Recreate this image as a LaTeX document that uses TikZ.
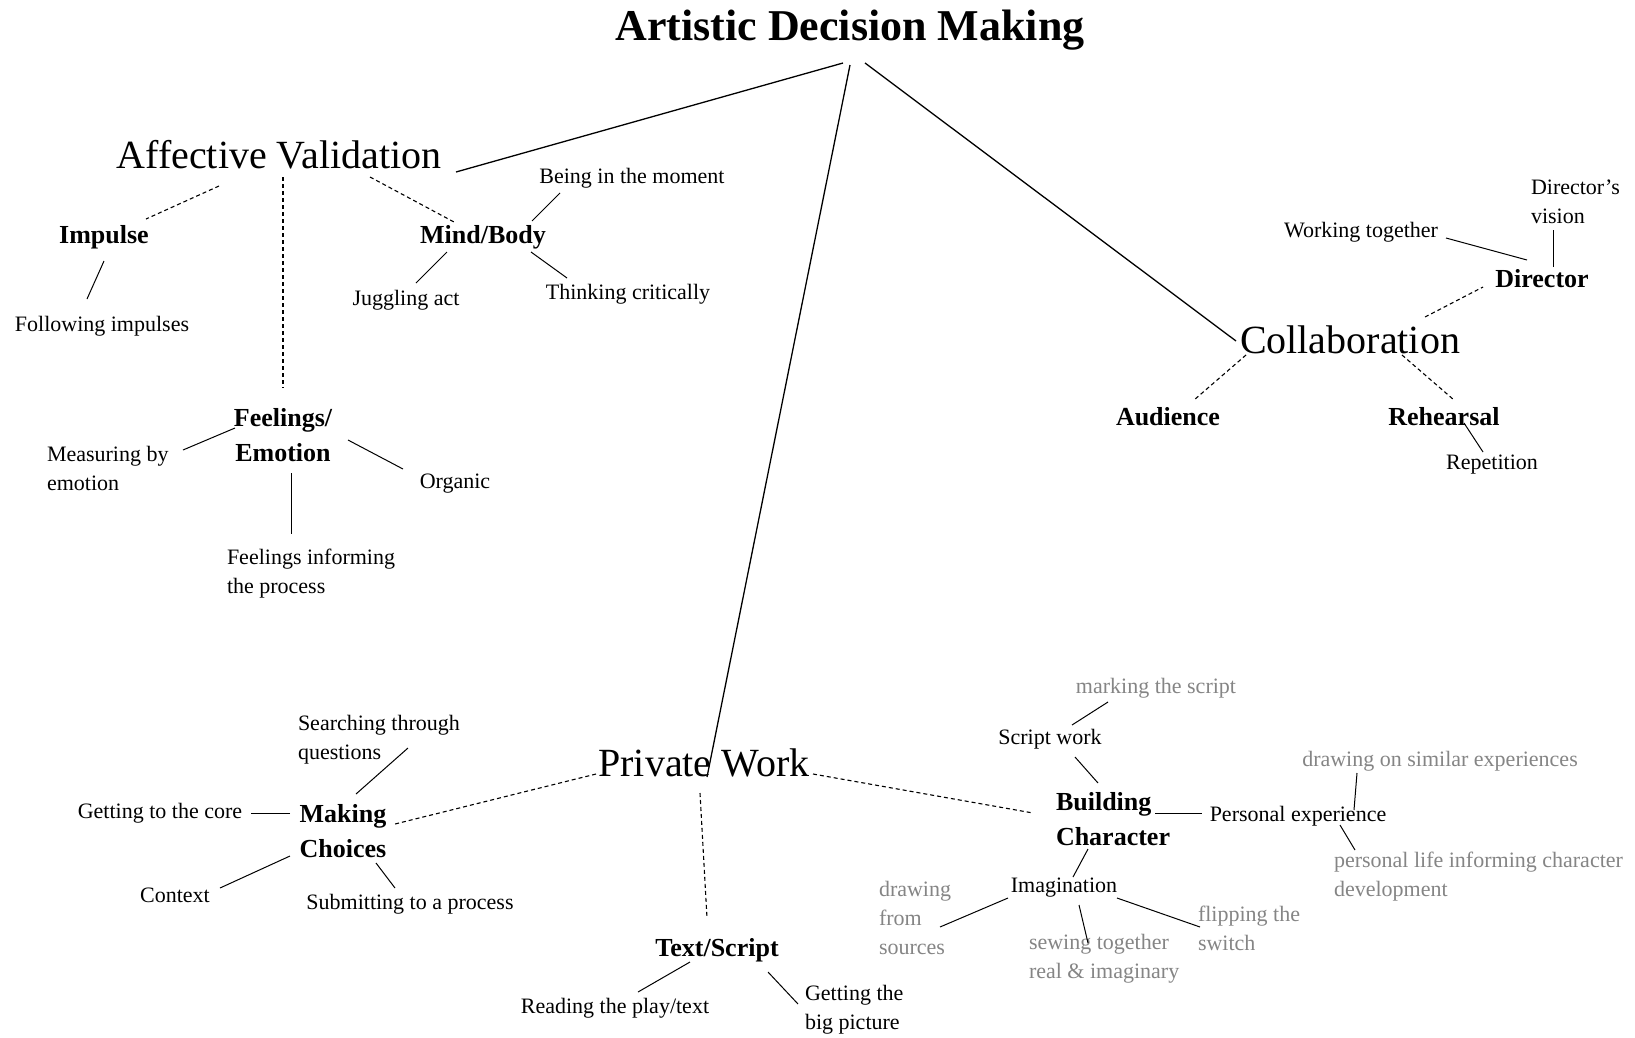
\documentclass[tikz,border=0pt]{standalone}
\usepackage{fontspec}
\setmainfont{Liberation Serif}
\usetikzlibrary{calc}
\definecolor{graytext}{gray}{0.52}
\begin{document}
\begin{tikzpicture}[x=1pt,y=-1pt,
  every node/.style={inner sep=0pt, outer sep=0pt},
  big/.style={font=\fontsize{40}{48}\selectfont},
  titlefont/.style={font=\bfseries\fontsize{44}{52}\selectfont},
  cat/.style={font=\bfseries\fontsize{26}{35}\selectfont, align=center},
  leaf/.style={font=\fontsize{22}{29}\selectfont, align=left},
  gleaf/.style={leaf, text=graytext},
  link/.style={line width=1pt},
  trunk/.style={line width=1.3pt},
  dlink/.style={line width=1.1pt, dash pattern=on 4pt off 3pt}]
\fill[white] (0,0) rectangle (1635,1037);
\useasboundingbox (0,0) rectangle (1635,1037);

% nodes
\node[titlefont] (title) at (850,30) {Artistic Decision Making};
\node[big] (av) at (279,155) {Affective Validation};
\node[cat] (impulse) at (104,237) {Impulse};
\node[leaf] (follow) at (102,326) {Following impulses};
\node[cat] (mind) at (483,237) {Mind/Body};
\node[leaf] (being) at (632,178) {Being in the moment};
\node[leaf] (juggle) at (406,300) {Juggling act};
\node[leaf] (think) at (628,294) {Thinking critically};
\node[cat] (feel) at (283,435) {Feelings/\\Emotion};
\node[leaf, anchor=west] (measure) at (47,468) {Measuring by\\emotion};
\node[leaf] (organic) at (455,484) {Organic};
\node[leaf, anchor=west] (finform) at (227,574) {Feelings informing\\the process};
\node[big] (collab) at (1350,340) {Collaboration};
\node[cat] (director) at (1542,279) {Director};
\node[leaf, anchor=west] (dvision) at (1531,202) {Director’s\\vision};
\node[leaf] (working) at (1361,232) {Working together};
\node[cat] (audience) at (1168,417) {Audience};
\node[cat] (rehearsal) at (1444,417) {Rehearsal};
\node[leaf] (repetition) at (1492,465) {Repetition};
\node[big] (private) at (704,763) {Private Work};
\node[cat] (making) at (343,831) {Making\\Choices};
\node[leaf, anchor=west] (search) at (298,740) {Searching through\\questions};
\node[leaf] (core) at (160,813) {Getting to the core};
\node[leaf] (context) at (175,895) {Context};
\node[leaf] (submit) at (410,904) {Submitting to a process};
\node[cat] (textscript) at (717,950) {Text/Script};
\node[leaf] (reading) at (615,1008) {Reading the play/text};
\node[leaf, anchor=west] (bigpic) at (805,1010) {Getting the\\big picture};
\node[cat, align=left, anchor=west] (building) at (1056,819) {Building\\Character};
\node[leaf] (scriptwork) at (1050,739) {Script work};
\node[gleaf] (marking) at (1156,688) {marking the script};
\node[leaf] (personal) at (1298,816) {Personal experience};
\node[gleaf] (similar) at (1440,761) {drawing on similar experiences};
\node[gleaf, anchor=west] (perslife) at (1334,877) {personal life informing character\\development};
\node[leaf] (imagination) at (1064,888) {Imagination};
\node[gleaf, anchor=west] (sources) at (879,918) {drawing\\from\\sources};
\node[gleaf, anchor=west] (sewing) at (1029,959) {sewing together\\real \& imaginary};
\node[gleaf, anchor=west] (flipping) at (1198,928) {flipping the\\switch};

% trunk connectors
\draw[trunk] ($(title)+(-7,33)$) -- ($(av)+(177,17)$);
\draw[trunk] ($(title)+(0,35)$) -- ($(private)+(3,14)$);
\draw[trunk] ($(title)+(15,33)$) -- ($(collab)+(-114,1)$);

% affective validation
\draw[dlink] ($(av)+(-60,31)$) -- ($(impulse)+(42,-18)$);
\draw[dlink] ($(av)+(4,22)$) -- ($(feel)+(0,-47)$);
\draw[dlink] ($(av)+(91,22)$) -- ($(mind)+(-29,-15)$);
\draw[link] ($(impulse)+(0,24)$) -- ($(follow)+(-15,-27)$);
\draw[link] ($(mind)+(49,-16)$) -- ($(being)+(-72,15)$);
\draw[link] ($(mind)+(-36,15)$) -- ($(juggle)+(10,-17)$);
\draw[link] ($(mind)+(48,15)$) -- ($(think)+(-61,-16)$);
\draw[link] ($(feel)+(-48,-7)$) -- ($(measure.west)+(136,-18)$);
\draw[link] ($(feel)+(65,5)$) -- ($(organic)+(-52,-15)$);
\draw[link] ($(feel)+(8,38)$) -- ($(finform.west)+(64,-40)$);

% collaboration
\draw[dlink] ($(collab)+(75,-23)$) -- ($(director)+(-59,8)$);
\draw[link] ($(director)+(-15,-19)$) -- ($(working)+(85,6)$);
\draw[link] ($(director)+(11,-12)$) -- ($(dvision.west)+(22,28)$);
\draw[dlink] ($(collab)+(-104,15)$) -- ($(audience)+(26,-17)$);
\draw[dlink] ($(collab)+(52,15)$) -- ($(rehearsal)+(10,-17)$);
\draw[link] ($(rehearsal)+(20,6)$) -- ($(repetition)+(-9,-13)$);

% private work
\draw[dlink] ($(private)+(-108,11)$) -- ($(making)+(52,-7)$);
\draw[dlink] ($(private)+(-4,30)$) -- ($(textscript)+(-10,-32)$);
\draw[dlink] ($(private)+(109,11)$) -- ($(building.west)+(-23,-6)$);
\draw[link] ($(making)+(13,-37)$) -- ($(search.west)+(110,8)$);
\draw[link] ($(making)+(-53,-18)$) -- ($(core)+(91,0)$);
\draw[link] ($(making)+(-53,25)$) -- ($(context)+(45,-7)$);
\draw[link] ($(making)+(33,32)$) -- ($(submit)+(-15,-16)$);
\draw[link] ($(textscript)+(-27,12)$) -- ($(reading)+(23,-16)$);
\draw[link] ($(textscript)+(51,22)$) -- ($(bigpic.west)+(-7,-6)$);
\draw[link] ($(building.west)+(42,-36)$) -- ($(scriptwork)+(25,18)$);
\draw[link] ($(scriptwork)+(22,-14)$) -- ($(marking)+(-48,14)$);
\draw[link] ($(building.west)+(99,-6)$) -- ($(personal)+(-96,-3)$);
\draw[link] ($(personal)+(56,-6)$) -- ($(similar)+(-83,12)$);
\draw[link] ($(personal)+(42,9)$) -- ($(perslife.west)+(21,-27)$);
\draw[link] ($(building.west)+(32,30)$) -- ($(imagination)+(9,-11)$);
\draw[link] ($(imagination)+(-56,10)$) -- ($(sources.west)+(61,9)$);
\draw[link] ($(imagination)+(15,17)$) -- ($(sewing.west)+(59,-16)$);
\draw[link] ($(imagination)+(53,10)$) -- ($(flipping.west)+(2,-1)$);
\end{tikzpicture}
\end{document}
